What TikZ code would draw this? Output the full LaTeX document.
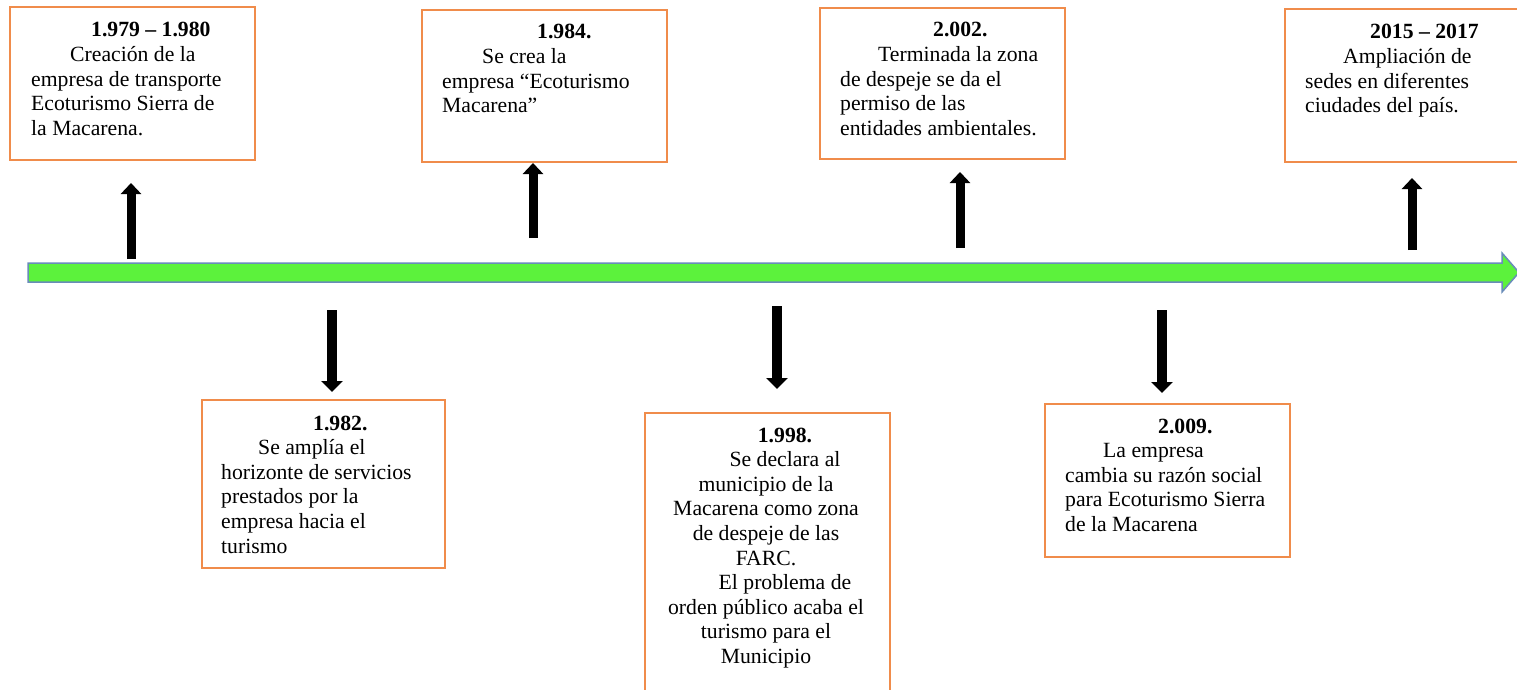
\documentclass[tikz,border=0pt]{standalone}
\usepackage{fontspec}
\setmainfont{Liberation Serif}
\usetikzlibrary{arrows.meta}
\definecolor{boxorange}{RGB}{240,140,75}
\definecolor{arrowgreen}{RGB}{92,242,60}
\definecolor{arrowedge}{RGB}{105,140,185}
\newcommand{\evtxt}{\fontsize{21.7}{24.6}\selectfont}
\newcommand{\ind}[1]{\hspace*{#1pt}}
\begin{document}
\begin{tikzpicture}[x=1pt,y=-1pt,
  ebox/.style={draw=boxorange, line width=2pt, rectangle, inner sep=0pt, outer sep=0pt, minimum width=245pt},
  etext/.style={anchor=base west, inner sep=0pt, font=\evtxt},
  ctext/.style={anchor=base, inner sep=0pt, font=\evtxt},
  uparrow/.style={line width=9pt, -{Triangle[width=20pt,length=11pt]}},
  downarrow/.style={line width=10pt, -{Triangle[width=21pt,length=11pt]}},
  timeline/.style={fill=arrowgreen, draw=arrowedge, line width=1.5pt, line join=miter}]
\clip (0,0) rectangle (1517,690);
\fill[white] (0,0) rectangle (1517,690);

% timeline
\draw[timeline] (28,263) -- (1502,263) -- (1502,253) -- (1519,272.5) -- (1502,292) -- (1502,282) -- (28,282) -- cycle;

% boxes
\node[ebox, minimum height=153pt] (b1) at (132.5,83.5) {};
\node[ebox, minimum height=152pt] (b2) at (544.5,86) {};
\node[ebox, minimum height=151pt] (b3) at (942.5,83.5) {};
\node[ebox, minimum height=153pt] (b4) at (1407.5,85.5) {};
\node[ebox, minimum width=243pt, minimum height=168pt] (b5) at (323.5,484) {};
\node[ebox, minimum height=306pt] (b6) at (767.5,566) {};
\node[ebox, minimum height=153pt] (b7) at (1167.5,480.5) {};

% texts
\node[etext] (t1) at (31,37) {\begin{tabular}[t]{@{}l@{}}\ind{60}\textbf{1.979 – 1.980}\\ \ind{39}Creación de la\\ empresa de transporte\\ Ecoturismo Sierra de\\ la Macarena.\end{tabular}};
\node[etext] (t2) at (442,39) {\begin{tabular}[t]{@{}l@{}}\ind{95}\textbf{1.984.}\\ \ind{40}Se crea la\\ empresa “Ecoturismo\\ Macarena”\end{tabular}};
\node[etext] (t3) at (840,37) {\begin{tabular}[t]{@{}l@{}}\ind{93}\textbf{2.002.}\\ \ind{38}Terminada la zona\\ de despeje se da el\\ permiso de las\\ entidades ambientales.\end{tabular}};
\node[etext] (t4) at (1305,39) {\begin{tabular}[t]{@{}l@{}}\ind{65}\textbf{2015 – 2017}\\ \ind{38}Ampliación de\\ sedes en diferentes\\ ciudades del país.\end{tabular}};
\node[etext] (t5) at (221,430) {\begin{tabular}[t]{@{}l@{}}\ind{92}\textbf{1.982.}\\ \ind{37}Se amplía el\\ horizonte de servicios\\ prestados por la\\ empresa hacia el\\ turismo\end{tabular}};
\node[ctext] (t6) at (766,442) {\begin{tabular}[t]{@{}c@{}}\ind{38}\textbf{1.998.}\\ \ind{38}Se declara al\\ municipio de la\\ Macarena como zona\\ de despeje de las\\ FARC.\\ \ind{38}El problema de\\ orden público acaba el\\ turismo para el\\ Municipio\end{tabular}};
\node[etext] (t7) at (1065,433) {\begin{tabular}[t]{@{}l@{}}\ind{93}\textbf{2.009.}\\ \ind{38}La empresa\\ cambia su razón social\\ para Ecoturismo Sierra\\ de la Macarena\end{tabular}};

% arrow ends
\coordinate (u1s) at (131,259);  \coordinate (u1e) at (131,183);
\coordinate (u2s) at (533,238);  \coordinate (u2e) at (533,163);
\coordinate (u3s) at (960,248);  \coordinate (u3e) at (960,172);
\coordinate (u4s) at (1412,250); \coordinate (u4e) at (1412,178);
\coordinate (d1s) at (332,310);  \coordinate (d1e) at (332,392);
\coordinate (d2s) at (777,306);  \coordinate (d2e) at (777,389);
\coordinate (d3s) at (1162,310); \coordinate (d3e) at (1162,393);

\draw[uparrow] (u1s) -- (u1e);
\draw[uparrow] (u2s) -- (u2e);
\draw[uparrow] (u3s) -- (u3e);
\draw[uparrow] (u4s) -- (u4e);
\draw[downarrow] (d1s) -- (d1e);
\draw[downarrow] (d2s) -- (d2e);
\draw[downarrow] (d3s) -- (d3e);
\end{tikzpicture}
\end{document}
